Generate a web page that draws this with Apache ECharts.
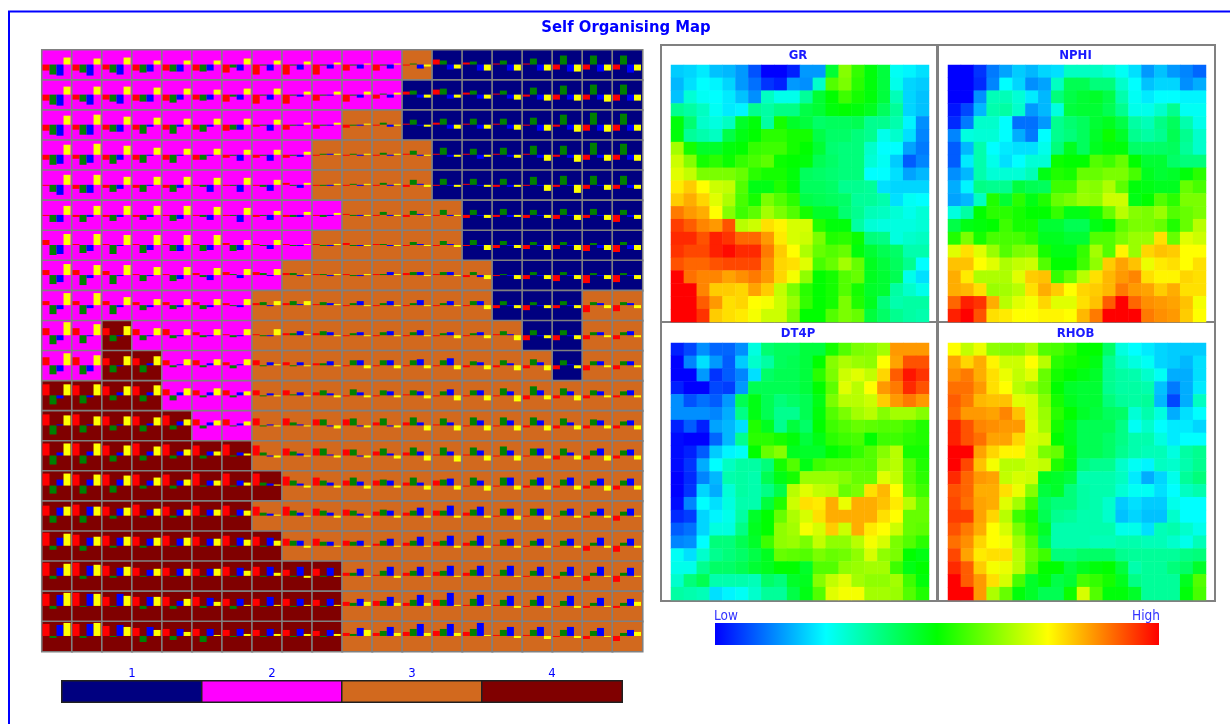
<!DOCTYPE html>
<html>
<head>
<meta charset="utf-8">
<title>Self Organising Map</title>
<script src="https://cdn.jsdelivr.net/npm/echarts@6/dist/echarts.min.js"></script>
<style>
  html, body { margin: 0; padding: 0; background: #fff; }
  #chart { width: 1230px; height: 724px; }
</style>
</head>
<body>
<div id="chart"></div>
<script>
const gridIndex = ['0','1','2','3','4','5','6','7','8','9','10','11','12','13','14','15','16','17','18','19'];
const clusterNames = ['1', '2', '3', '4'];
const clusterColors = ['#000080', '#ff00ff', '#d2691e', '#800000'];

// cluster of each map node, top row first
const clusterRows = [
  '22222222222231111111',
  '22222222222211111111',
  '22222222223311111111',
  '22222222233331111111',
  '22222222233331111111',
  '22222222223333111111',
  '22222222233333111111',
  '22222222333333311111',
  '22222223333333311133',
  '22422223333333331133',
  '22442223333333333133',
  '44442223333333333333',
  '44444223333333333333',
  '44444443333333333333',
  '44444444333333333333',
  '44444443333333333333',
  '44444444333333333333',
  '44444444443333333333',
  '44444444443333333333',
  '44444444443333333333'
];

// little bars in each node, up is positive
const barRed = [
  [-6,-6,-5,-6,-6,-6,-8,-10,-10,-10,-6,-6,-1,5,2,1,1,-5,-5,-5],
  [-6,-5,-5,-6,-6,-5,-7,-9,-9,-6,-7,-4,3,5,2,1,-2,-5,-5,-6],
  [-6,-5,-5,-5,-5,-5,-6,-2,-5,-4,-3,-1,1,2,1,1,-1,-2,-6,-6],
  [-5,-4,-5,-5,-5,-5,-3,-3,-3,-1,-1,-1,1,1,1,1,1,-2,-5,-5],
  [-1,-4,-3,-3,-3,-1,-1,-1,2,-1,-1,-1,-2,-1,1,-2,-1,-2,-4,-4],
  [-1,-2,-2,-2,-1,-1,-1,-2,-2,-1,1,-1,-2,-1,-3,-2,-3,-4,-3,-7],
  [5,1,1,1,1,1,2,1,1,1,2,1,-1,-1,-1,-3,-4,-4,-6,-7],
  [5,5,4,1,1,2,3,3,2,1,1,1,2,1,-2,-1,-4,-6,-8,-7],
  [4,4,4,3,3,3,2,2,2,1,-1,-1,-1,-1,-1,-3,-5,-3,-7,-6],
  [7,7,7,6,6,3,1,1,2,2,-1,-1,-1,-1,-1,1,-5,-5,-4,-4],
  [8,8,7,7,5,5,3,5,3,2,-1,-1,-1,-1,-2,-2,-3,-4,-5,-4],
  [11,10,9,9,6,5,5,5,5,3,-1,-1,1,-1,-1,-1,-4,-3,-3,-2],
  [11,11,9,9,10,6,6,7,7,6,6,3,3,1,-1,-1,-2,-3,-3,-3],
  [12,12,10,12,11,10,11,10,7,7,6,4,3,1,1,-1,-1,-4,-4,-3],
  [12,11,11,11,11,12,12,12,9,8,5,5,3,5,-1,-1,-2,-2,-3,-4],
  [10,11,9,11,9,10,10,9,9,7,6,4,3,5,3,-1,-1,-1,-2,-5],
  [13,11,10,9,10,9,10,9,7,7,5,2,3,4,3,1,-1,-1,-5,-6],
  [13,13,10,8,8,7,9,9,6,7,3,1,3,4,3,1,-1,-3,-5,-6],
  [12,13,9,9,9,9,7,7,7,6,4,5,3,6,1,1,-1,-1,-2,-2],
  [12,12,10,8,7,7,6,6,6,5,3,3,4,5,4,1,1,-1,-3,-5]
];
const barGreen = [
  [-10,-8,-8,-8,-7,-7,-3,-1,-1,-1,-1,-1,1,4,3,4,6,9,9,9],
  [-10,-7,-7,-7,-8,-6,-2,-1,-1,-1,-1,1,4,6,4,4,7,9,10,10],
  [-10,-10,-7,-9,-9,-7,-5,-1,-1,-1,-1,2,5,6,6,6,7,10,12,11],
  [-10,-10,-9,-8,-8,-5,-1,-1,-1,1,1,2,4,7,6,7,9,9,12,11],
  [-7,-8,-7,-7,-7,-2,-1,-2,-1,-1,1,2,5,6,6,6,8,9,9,9],
  [-7,-7,-6,-5,-6,-2,-1,-1,-2,-2,-1,3,4,5,5,6,5,6,6,5],
  [-10,-8,-9,-8,-6,-6,-6,-1,-1,-1,-1,1,3,4,5,4,3,3,2,3],
  [-9,-10,-9,-6,-6,-2,1,2,2,1,-1,1,3,3,3,1,3,3,2,2],
  [-9,-9,-9,-5,-4,-4,-1,3,4,3,2,2,2,2,4,4,3,4,3,3],
  [-9,-8,-6,-5,-3,-2,-2,-1,2,4,2,3,3,2,2,4,5,5,3,3],
  [-9,-9,-7,-7,-2,-2,-3,-1,-1,2,5,5,5,5,4,5,6,5,4,4],
  [-9,-8,-5,-6,-5,-2,-2,-1,1,5,6,5,5,4,5,7,9,7,5,4],
  [-9,-7,-5,-6,-4,-3,-1,-1,3,6,7,7,8,7,8,8,8,7,6,4],
  [-9,-8,-6,-5,-3,-3,-1,3,4,7,6,7,8,8,8,9,7,7,5,5],
  [-8,-8,-7,-3,-3,-1,-1,3,5,5,8,6,8,6,8,8,6,6,5,5],
  [-7,-7,-3,-2,-2,-1,-1,3,5,5,5,6,5,5,6,7,7,5,4,4],
  [-4,-5,-2,-2,-1,-1,-1,-1,5,4,4,5,5,5,5,6,5,5,3,3],
  [-3,-3,-2,-1,-1,-1,-1,-1,-1,-1,3,5,5,5,6,6,5,4,3,3],
  [-3,-1,-1,-3,-3,-2,-3,-1,-1,-1,3,5,6,6,7,6,6,5,3,3],
  [-2,-2,-1,-6,-4,-6,-1,-1,-1,-1,2,5,7,7,7,6,6,6,5,3]
];
const barBlue = [
  [-11,-11,-10,-7,-7,-6,-6,-6,-5,-4,-4,-4,-4,-5,-6,-6,-6,-7,-7,-8],
  [-11,-10,-9,-7,-5,-5,-5,-5,-2,-1,-3,-3,-3,-4,-4,-4,-5,-5,-5,-6],
  [-11,-10,-7,-2,-2,-2,-5,-6,-1,-1,-1,-2,-1,-4,-4,-4,-6,-5,-6,-6],
  [-9,-8,-5,-1,-1,-1,-6,-6,-2,1,-1,-1,-1,-2,-4,-2,-3,-3,-3,-5],
  [-10,-8,-4,-1,-3,-7,-7,-6,-3,-1,-1,-1,1,-1,-1,-2,-1,-1,-1,-3],
  [-7,-2,-2,-2,-4,-5,-7,-5,-2,-1,-1,-1,1,-1,-1,-2,-1,-1,-1,-2],
  [-9,-6,-1,-5,-6,-5,-5,-4,-1,-1,-1,-1,1,1,-1,-1,-1,-1,-3,-4],
  [-7,-3,-1,-1,-4,-5,-3,-1,-1,-1,-1,3,3,3,-2,-1,-1,-1,-1,-1],
  [-4,-3,-2,-2,-2,-2,-2,-1,1,2,4,4,5,4,4,-1,-1,-1,2,2],
  [-5,-1,-1,-1,-1,-1,-1,-1,4,3,3,4,5,3,3,1,-1,-1,3,4],
  [-6,-6,-1,2,1,2,1,3,3,4,5,5,6,7,3,2,3,1,4,4],
  [-3,-2,3,3,3,3,3,2,3,2,3,4,4,6,5,4,5,4,4,5],
  [1,1,1,2,4,3,2,1,1,-1,-1,-1,3,3,5,5,5,3,5,5],
  [3,4,3,4,4,4,3,-1,2,1,-1,2,4,4,5,5,7,3,7,6],
  [6,6,6,5,5,5,5,2,2,3,4,5,3,7,5,8,8,8,7,7],
  [8,9,7,6,6,6,6,2,3,3,2,5,8,10,9,7,7,7,7,7],
  [8,8,8,7,7,7,8,8,5,4,5,7,9,10,10,7,7,7,8,7],
  [8,10,8,6,7,7,8,9,9,8,7,9,9,10,10,10,9,9,9,8],
  [11,12,12,9,5,8,7,9,7,7,7,9,11,13,11,10,10,10,8,7],
  [11,12,11,9,7,7,7,7,7,6,8,9,12,12,13,9,9,9,8,6]
];
const barYellow = [
  [7,6,7,4,4,4,6,4,3,2,1,1,-2,-4,-6,-6,-6,-7,-6,-6],
  [8,8,8,7,6,5,6,6,3,3,3,2,-3,-3,-4,-5,-6,-6,-7,-6],
  [9,10,8,7,6,6,6,5,2,2,1,-1,-2,-4,-4,-5,-6,-7,-7,-6],
  [10,11,9,7,6,6,5,5,3,1,1,1,-1,-2,-2,-3,-6,-7,-6,-6],
  [10,10,8,8,8,7,7,5,2,1,1,1,-2,-2,-2,-2,-6,-8,-5,-4],
  [9,9,9,9,9,8,7,4,3,2,-1,-1,-1,-1,-3,-2,-3,-5,-5,-4],
  [11,11,10,10,10,10,5,5,1,1,-1,-1,-1,-2,-5,-3,-5,-5,-5,-5],
  [11,10,10,8,8,7,6,6,1,1,1,1,-1,-1,-4,-4,-4,-4,-4,-4],
  [12,12,8,6,6,6,6,4,4,1,-1,-1,-1,-1,-4,-3,-3,-3,-3,-3],
  [13,11,9,7,6,6,6,6,1,-1,-1,-1,-1,-3,-3,-5,-3,-4,-2,-2],
  [12,10,9,9,6,6,6,1,-1,-1,-3,-3,-3,-4,-4,-5,-5,-3,-2,-2],
  [11,11,9,10,7,7,4,-1,-1,-2,-2,-2,-3,-5,-5,-6,-4,-5,-2,-2],
  [10,9,9,8,6,5,4,-1,-1,-3,-2,-2,-5,-5,-5,-5,-5,-4,-3,-4],
  [12,12,10,9,6,4,2,-2,-1,-2,-2,-3,-5,-6,-5,-5,-3,-4,-5,-4],
  [12,11,10,8,6,5,3,1,-2,-2,-3,-2,-4,-4,-5,-4,-4,-4,-5,-4],
  [9,9,8,7,6,6,5,1,-1,-2,-2,-2,-2,-2,-2,-4,-4,-2,-2,-1],
  [12,9,9,8,8,7,6,5,-2,-1,-1,-1,-1,-2,-2,-2,-2,-2,-2,-2],
  [12,11,9,7,7,7,5,3,-2,-1,-1,-2,-1,-1,-1,-1,-1,-1,-1,-1],
  [13,12,10,9,7,4,1,1,1,1,4,3,3,1,1,-2,-2,-2,-1,4],
  [13,13,9,6,4,1,2,2,2,2,6,3,3,3,1,-2,-3,-2,-1,4]
];

// component planes, 0 = low, 100 = high
const valuesGR = [
  [20,21,23,19,18,15,8,0,0,3,15,15,45,63,55,49,44,26,24,22],
  [18,22,25,24,21,15,11,5,3,15,14,30,58,62,54,49,44,27,21,20],
  [19,29,26,25,23,19,14,31,27,27,35,45,50,56,52,49,44,32,21,19],
  [36,34,31,26,23,24,36,34,37,37,43,45,49,50,49,47,41,35,21,19],
  [49,39,30,28,31,46,49,34,52,46,44,40,41,41,42,36,36,33,24,14],
  [49,35,33,31,43,48,50,54,54,52,52,43,40,40,38,36,27,30,22,13],
  [66,52,46,46,49,50,55,56,56,52,50,45,39,38,38,30,25,25,16,12],
  [70,63,52,54,51,55,57,59,51,50,49,42,40,38,38,29,26,20,9,13],
  [72,69,62,62,62,60,54,52,52,49,41,40,39,38,38,25,25,22,16,18],
  [77,80,75,70,69,58,48,48,53,49,41,41,40,36,36,35,22,21,21,21],
  [80,83,79,72,67,57,52,62,58,54,43,42,41,40,35,35,33,22,26,25],
  [88,85,83,75,63,56,59,66,62,58,52,46,46,39,36,32,31,29,27,29],
  [94,91,87,85,92,68,70,78,76,71,71,53,49,49,34,29,28,28,28,29],
  [96,96,92,97,95,90,90,85,77,71,70,62,53,54,51,38,37,28,30,31],
  [95,93,93,97,99,96,96,88,80,75,67,60,58,60,49,45,42,40,33,33],
  [92,90,90,92,93,93,93,86,79,78,72,57,60,66,60,47,44,41,36,25],
  [100,89,87,87,84,86,88,85,79,74,64,50,52,58,60,47,45,42,27,22],
  [100,100,87,80,80,79,84,80,69,62,54,50,52,58,52,46,45,34,30,27],
  [100,100,91,85,78,79,75,74,70,65,55,50,52,62,53,47,38,33,34,34],
  [100,100,95,80,78,77,74,70,70,62,50,50,58,62,60,44,40,36,34,33]
];
const valuesNPHI = [
  [0,0,5,12,16,20,18,21,22,31,31,31,29,26,22,15,19,15,13,10],
  [0,0,4,13,25,21,14,16,31,42,42,38,38,30,25,19,21,21,14,17],
  [0,0,14,32,32,29,23,18,38,43,45,46,43,33,26,23,25,25,24,24],
  [2,7,18,33,34,30,15,18,28,44,45,45,42,36,27,27,30,36,26,26],
  [4,12,30,30,25,11,11,15,36,39,41,45,47,43,34,32,37,41,33,27],
  [13,28,29,29,25,17,12,25,36,38,41,46,51,46,36,34,36,42,36,30],
  [9,18,33,25,23,22,22,27,38,47,41,47,49,49,40,40,40,41,35,30],
  [9,23,33,27,22,25,29,29,51,50,50,58,56,60,50,45,45,40,38,38],
  [14,18,33,29,29,29,32,48,53,52,60,60,62,62,57,47,45,46,49,54],
  [17,24,37,36,36,44,42,41,56,56,64,63,67,59,49,48,47,47,60,57],
  [16,18,31,53,45,54,48,53,60,62,65,64,70,70,48,50,58,54,62,62],
  [28,34,50,54,54,52,50,50,55,48,48,52,60,68,63,62,65,58,60,62],
  [43,48,49,50,56,52,52,45,45,42,42,48,50,59,62,62,60,53,60,68],
  [53,62,52,57,57,57,54,47,47,45,45,58,58,62,65,65,78,60,72,70],
  [72,78,72,65,58,62,63,52,48,48,55,66,58,76,65,79,81,80,75,75],
  [81,81,75,72,67,69,70,58,50,50,56,64,80,84,81,73,77,78,75,78],
  [83,77,67,67,67,72,80,81,55,60,68,78,82,85,87,78,76,76,79,78],
  [83,82,78,65,66,68,78,83,80,75,79,80,82,88,85,84,80,83,78,78],
  [90,97,95,83,68,72,74,79,72,72,78,81,91,100,90,86,85,84,81,74],
  [97,100,92,78,77,75,75,76,76,75,82,88,100,100,100,88,86,85,80,75]
];
const valuesDT4P = [
  [3,7,14,10,10,14,28,39,41,41,44,44,52,58,62,63,66,85,85,85],
  [0,13,22,15,9,20,30,34,41,42,44,50,63,67,65,64,75,84,92,92],
  [0,0,15,5,9,13,22,40,42,42,44,54,62,70,72,69,79,91,98,95],
  [3,0,0,7,6,15,42,42,42,42,44,50,59,72,68,75,85,88,96,92],
  [14,8,11,9,15,42,48,42,38,40,42,48,62,68,68,70,80,85,88,85],
  [14,14,14,13,17,37,48,42,36,36,42,49,58,62,66,68,63,66,66,63],
  [3,9,3,16,18,22,53,47,36,44,40,50,56,58,60,59,58,58,56,53],
  [1,0,0,10,18,36,54,54,52,49,44,48,54,56,57,50,56,56,54,53],
  [1,3,9,20,24,26,50,60,63,47,46,46,50,52,55,58,63,68,52,52],
  [1,5,17,25,31,34,34,38,52,58,48,56,58,58,59,58,66,68,58,53],
  [0,4,13,18,33,34,33,42,48,52,65,65,65,63,60,60,72,69,58,54],
  [0,5,21,17,29,34,33,37,43,68,72,69,68,60,62,78,82,75,60,56],
  [1,13,25,22,28,33,33,44,53,70,78,77,83,73,83,83,81,77,68,60],
  [4,6,21,24,27,34,46,50,60,67,71,78,83,83,83,83,78,75,60,60],
  [9,11,21,28,28,37,47,50,64,66,74,71,80,70,83,77,75,70,60,59],
  [13,14,25,38,38,42,46,56,64,65,62,69,64,64,68,74,71,62,58,54],
  [26,22,30,36,38,40,43,47,60,59,58,62,60,61,64,71,64,62,50,48],
  [27,27,36,40,40,42,45,47,50,50,46,58,58,64,65,66,66,56,48,50],
  [30,38,42,33,33,33,32,40,38,46,47,63,69,72,66,64,64,66,56,49],
  [34,33,32,22,24,26,30,35,35,43,48,58,72,74,74,66,66,65,58,53]
];
const valuesRHOB = [
  [75,69,73,64,63,63,67,58,57,54,50,50,40,28,25,23,21,20,20,20],
  [84,79,83,76,70,70,75,68,54,52,51,48,36,31,28,26,21,20,18,22],
  [86,88,83,78,73,69,72,60,52,50,48,46,36,34,33,30,26,17,17,22],
  [89,89,85,78,75,68,65,60,50,46,45,45,36,34,34,33,19,12,17,23],
  [91,88,82,81,81,72,71,63,52,47,45,45,38,35,34,35,18,7,17,31],
  [90,85,85,84,87,81,71,65,54,50,46,44,41,40,29,33,28,17,22,25],
  [97,92,87,86,85,85,72,66,52,47,42,42,42,37,26,30,25,23,23,21],
  [97,92,89,84,84,79,71,70,50,47,42,42,40,37,33,33,28,23,25,25],
  [100,100,84,79,76,76,70,62,60,48,42,42,40,36,33,32,32,28,34,36],
  [100,93,81,74,68,68,70,69,53,48,38,36,36,30,26,24,31,30,33,36],
  [96,90,85,84,69,71,70,47,46,44,33,33,33,31,23,17,21,27,35,38],
  [92,90,83,83,78,73,63,44,46,38,34,33,33,29,26,26,22,25,31,33],
  [93,89,84,83,72,66,56,41,38,38,34,33,30,20,22,20,20,27,25,25],
  [94,94,84,79,68,56,52,42,36,35,33,33,30,19,21,19,19,30,25,25],
  [92,88,83,75,71,62,54,46,33,33,33,33,33,27,27,22,32,33,30,27],
  [89,86,79,75,74,66,58,43,33,33,33,32,32,33,33,32,32,30,27,32],
  [93,84,77,78,78,68,60,56,38,38,40,40,40,36,35,35,35,35,37,38],
  [96,91,80,74,73,68,58,50,50,44,47,49,50,44,33,35,35,38,40,46],
  [100,91,85,78,71,57,46,49,43,45,57,55,52,47,37,35,35,35,47,58],
  [100,100,85,67,60,49,46,42,42,51,71,58,49,49,46,35,35,35,49,57]
];

const rampColors = ['#0000ff', '#00ffff', '#00ff00', '#ffff00', '#ff0000'];
const fontName = '"DejaVu Sans Condensed", "DejaVu Sans", sans-serif';
const blue = '#0000ff';

const panels = [
  { name: 'GR', values: valuesGR, left: 671, top: 65, titleTop: 44, frame: [661, 45, 276, 277] },
  { name: 'NPHI', values: valuesNPHI, left: 948, top: 65, titleTop: 44, frame: [938, 45, 277, 277] },
  { name: 'DT4P', values: valuesDT4P, left: 671, top: 343, titleTop: 322, frame: [661, 322, 276, 279] },
  { name: 'RHOB', values: valuesRHOB, left: 948, top: 343, titleTop: 322, frame: [938, 322, 277, 279] }
];

function toCells(rows) {
  const cells = [];
  rows.forEach((row, r) => row.forEach((v, c) => cells.push([c, r, v])));
  return cells;
}

function categoryAxes(index) {
  return {
    x: { type: 'category', gridIndex: index, data: gridIndex, show: false },
    y: { type: 'category', gridIndex: index, data: gridIndex, inverse: true, show: false }
  };
}

const grids = [{ left: 42, top: 50, width: 600.5, height: 601.5 }];
const xAxes = [categoryAxes(0).x];
const yAxes = [categoryAxes(0).y];
// title left is the middle of the text once the 5px title padding is taken off
const titles = [{
  text: 'Self Organising Map', left: 621, top: 14, textAlign: 'center',
  textStyle: { color: blue, fontSize: 16.5, fontWeight: 'bold', fontFamily: fontName }
}];
const series = [];

// main map, nodes coloured by cluster
const clusterCells = [];
clusterRows.forEach((row, r) => row.split('').forEach((v, c) => clusterCells.push([c, r, Number(v)])));
series.push({
  type: 'heatmap', xAxisIndex: 0, yAxisIndex: 0, data: clusterCells, animation: false,
  itemStyle: { borderColor: '#808080', borderWidth: 1.6 }, emphasis: { disabled: true }
});

// the four bars on each node
const barCells = [];
gridIndex.forEach((_, r) => gridIndex.forEach((_, c) => {
  barCells.push([c, r, barRed[r][c], barGreen[r][c], barBlue[r][c], barYellow[r][c]]);
}));
const barColors = ['#ff0000', '#008000', '#0000ff', '#ffff00'];
series.push({
  type: 'custom', xAxisIndex: 0, yAxisIndex: 0, data: barCells, z: 5, animation: false, silent: true,
  renderItem(params, api) {
    const center = api.coord([api.value(0), api.value(1)]);
    const size = api.size([1, 1]);
    const unit = size[1] / 30;
    const barWidth = size[0] * 7 / 30;
    const left = center[0] - size[0] / 2 + 0.5;
    const base = center[1] - 0.5;
    return {
      type: 'group',
      children: barColors.map((color, i) => {
        const h = api.value(2 + i) * unit;
        return {
          type: 'rect',
          shape: { x: left + i * barWidth, y: h > 0 ? base - h : base, width: barWidth, height: Math.abs(h) },
          style: { fill: color }
        };
      })
    };
  },
  encode: { x: 0, y: 1 }
});

// cluster key under the map
grids.push({ left: 62, top: 681, width: 560, height: 21 });
xAxes.push({
  type: 'category', gridIndex: 1, data: clusterNames, position: 'top',
  axisLine: { show: false }, axisTick: { show: false },
  axisLabel: { color: blue, fontSize: 13, margin: 1, fontFamily: fontName }
});
yAxes.push({ type: 'category', gridIndex: 1, data: ['key'], show: false });
series.push({
  type: 'heatmap', xAxisIndex: 1, yAxisIndex: 1, animation: false,
  data: clusterNames.map((name, i) => [i, 0, i + 1]),
  itemStyle: { borderColor: '#202020', borderWidth: 1.5 }, emphasis: { disabled: true }
});

// component planes
const planeSeries = [];
panels.forEach((p, i) => {
  const idx = i + 2;
  const axes = categoryAxes(idx);
  grids.push({ left: p.left, top: p.top, width: 258, height: 257 });
  xAxes.push(axes.x);
  yAxes.push(axes.y);
  planeSeries.push(series.length);
  series.push({
    type: 'heatmap', xAxisIndex: idx, yAxisIndex: idx, data: toCells(p.values),
    animation: false, emphasis: { disabled: true }
  });
  titles.push({
    text: p.name, left: p.frame[0] + p.frame[2] / 2 - 6, top: p.titleTop, textAlign: 'center',
    textStyle: { color: '#1a1aff', fontSize: 13, fontWeight: 'bold', fontFamily: fontName }
  });
});

const frameLines = panels.map(p => ({
  type: 'rect', silent: true,
  shape: { x: p.frame[0], y: p.frame[1], width: p.frame[2], height: p.frame[3] },
  style: { fill: null, stroke: '#808080', lineWidth: 2 }
}));

const option = {
  animation: false,
  backgroundColor: '#ffffff',
  title: titles,
  grid: grids,
  xAxis: xAxes,
  yAxis: yAxes,
  visualMap: [
    {
      type: 'piecewise', show: false, seriesIndex: [0, 2], dimension: 2,
      pieces: clusterColors.map((color, i) => ({ value: i + 1, color: color }))
    },
    {
      type: 'continuous', show: false, seriesIndex: planeSeries, dimension: 2, min: 0, max: 100,
      inRange: { color: rampColors }
    }
  ],
  graphic: frameLines.concat([
    { type: 'line', silent: true, shape: { x1: 9, y1: 11, x2: 9, y2: 724 }, style: { stroke: blue, lineWidth: 2 } },
    { type: 'line', silent: true, shape: { x1: 8, y1: 11.5, x2: 1230, y2: 11.5 }, style: { stroke: blue, lineWidth: 2 } },
    {
      type: 'rect', silent: true,
      shape: { x: 715, y: 623, width: 444, height: 22 },
      style: {
        fill: new echarts.graphic.LinearGradient(0, 0, 1, 0, rampColors.map((color, i) => ({ offset: i / 4, color: color })))
      }
    },
    { type: 'text', silent: true, x: 714, y: 609, style: { text: 'Low', fill: '#3333ff', font: '13.5px ' + fontName } },
    { type: 'text', silent: true, x: 1132, y: 609, style: { text: 'High', fill: '#3333ff', font: '13.5px ' + fontName } }
  ]),
  series: series
};

const chart = echarts.init(document.getElementById('chart'));
chart.setOption(option);
window.addEventListener('resize', () => chart.resize());
</script>
</body>
</html>
